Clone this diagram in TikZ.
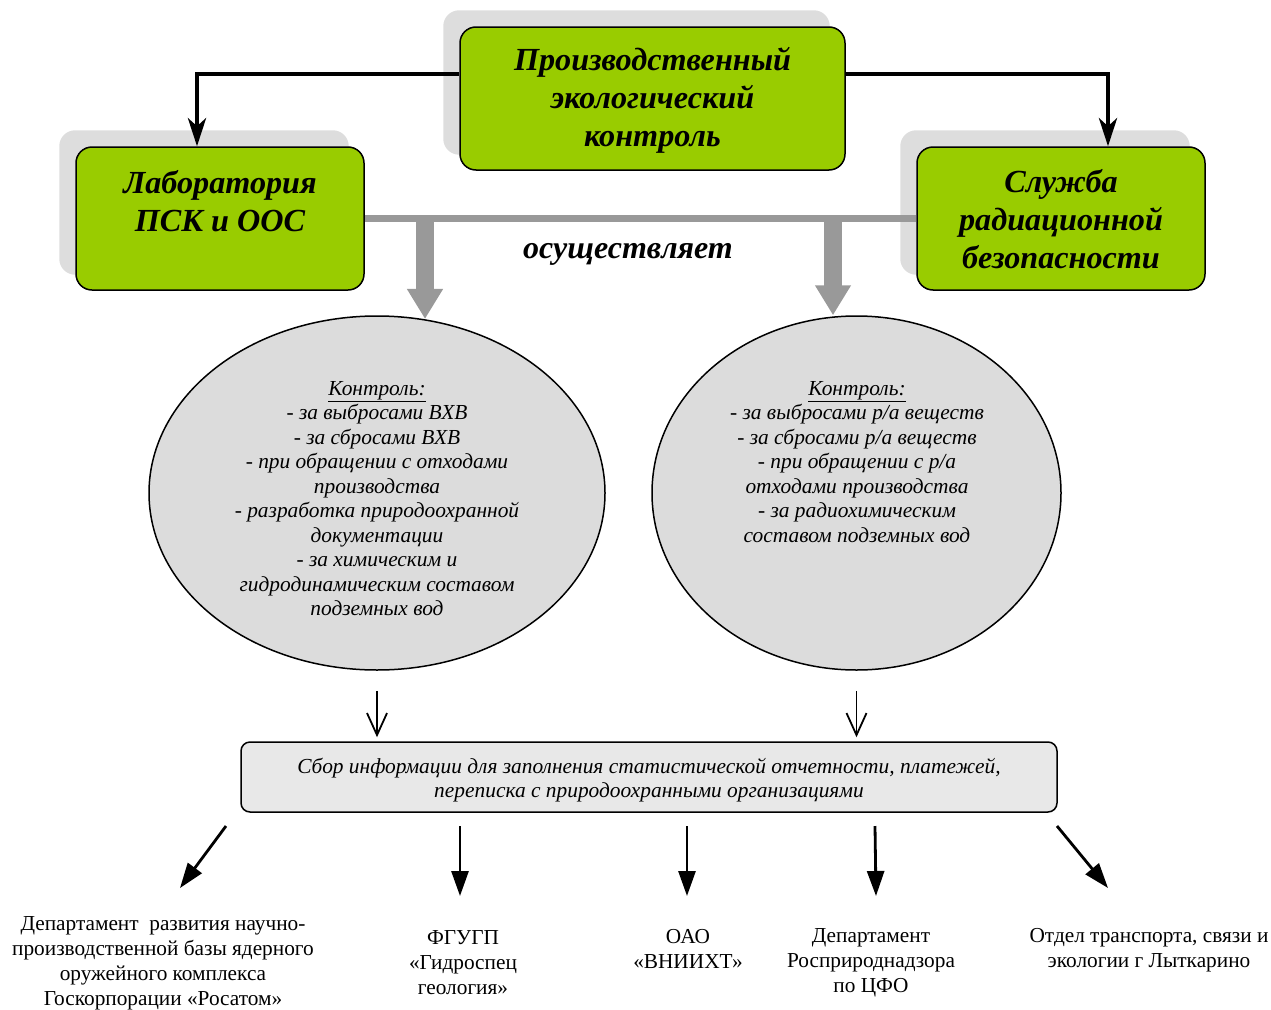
\documentclass[tikz,border=0pt]{standalone}
\usepackage{fontspec}
\setmainfont{Liberation Serif}
\usetikzlibrary{arrows.meta,shapes.geometric,backgrounds,calc}
\definecolor{boxgreen}{HTML}{99CC00}
\definecolor{shadowgray}{HTML}{DDDDDD}
\definecolor{linegray}{HTML}{999999}
\definecolor{ellgray}{HTML}{DCDCDC}
\definecolor{infogray}{HTML}{E8E8E8}
\tikzset{
  greenbox/.style={draw=black, line width=1.5pt, fill=boxgreen, rounded corners=16pt, inner sep=0pt},
  headtext/.style={font=\fontsize{32.2}{38}\selectfont\bfseries\itshape, align=center, inner sep=0pt},
  ell/.style={ellipse, draw=black, line width=1.5pt, fill=ellgray, inner sep=0pt},
  elltext/.style={font=\fontsize{21.4}{24.5}\selectfont\itshape, align=center, inner sep=0pt},
  blkconn/.style={line width=4.5pt, -{Stealth[length=28pt,width=18pt,inset=8pt]}},
  fatarrow/.style={draw=linegray, line width=18pt, -{Triangle[length=30pt,width=34pt]}},
  thinarrow/.style={line width=1.8pt, -{Straight Barb[length=22pt,width=20pt]}},
  outarrow/.style={line width=2.8pt, -{Triangle[length=25pt,width=17pt]}},
  infobox/.style={draw=black, line width=1.5pt, fill=infogray, rounded corners=9pt, inner sep=0pt},
  labtext/.style={font=\fontsize{21.3}{25}\selectfont, align=center, inner sep=0pt},
  shadowbox/.style={fill=shadowgray, rounded corners=16pt}
}
\begin{document}
\begin{tikzpicture}[x=1pt,y=-1pt]
\useasboundingbox (0,0) rectangle (1271,1009);

% green boxes
\node[greenbox, minimum width=385pt, minimum height=143pt] (top) at (652.5,98.5) {};
\node[greenbox, minimum width=288pt, minimum height=143pt] (lab) at (220,218.5) {};
\node[greenbox, minimum width=288pt, minimum height=143pt] (sl) at (1061,218.5) {};

\begin{scope}[on background layer]
  \foreach \b in {top,lab,sl}{
    \fill[shadowbox] ([shift={(-16pt,16pt)}]\b.south west) rectangle ([shift={(-16pt,16pt)}]\b.north east);
  }
\end{scope}

\node[headtext] (topt) at (652.5,100) {Производственный\\экологический\\контроль};
\node[headtext] (labt) at (220,201) {Лаборатория\\ПСК и ООС};
\node[headtext] (slt) at (1061,219.5) {Служба\\радиационной\\безопасности};

% black connectors
\draw[blkconn] ([yshift=24.5pt]top.west) -| ([xshift=-23pt]lab.north);
\draw[blkconn] ([yshift=24.5pt]top.east) -| ([xshift=47pt]sl.north);

% gray line
\draw[linegray, line width=7pt] (lab.east) -- (sl.west);
\node[font=\fontsize{32}{36}\selectfont\bfseries\itshape, inner sep=0pt] (osu) at (628,254) {осуществляет};

% ellipses
\node[ell, minimum width=456pt, minimum height=354pt] (el1) at (377,493) {};
\node[ell, minimum width=409pt, minimum height=354pt] (el2) at (856.5,493) {};

\coordinate (g1) at (425,218.5);
\coordinate (g2) at (833,218.5);
\draw[fatarrow] (g1) -- (g1 |- el1.75);
\draw[fatarrow] (g2) -- (g2 |- el2.north);

\node[elltext] (el1t) at (377,498.5) {\underline{Контроль:}\\- за выбросами ВХВ\\- за сбросами ВХВ\\- при обращении с отходами\\производства\\- разработка природоохранной\\документации\\- за химическим и\\гидродинамическим составом\\подземных вод};
\node[elltext] (el2t) at (857,462) {\underline{Контроль:}\\- за выбросами р/а веществ\\- за сбросами р/а веществ\\- при обращении с р/а\\отходами производства\\- за радиохимическим\\составом подземных вод};

% info box
\node[infobox, minimum width=816pt, minimum height=70pt] (bb) at (649,777) {};
\node[font=\fontsize{21.4}{24}\selectfont\itshape, align=center, inner sep=0pt] (bbt) at (649,780) {Сбор информации для заполнения статистической отчетности, платежей,\\переписка с природоохранными организациями};

\draw[thinarrow, shorten >=4pt] ([yshift=-20pt]el1.south) -- (el1.south |- bb.north);
\draw[thinarrow, shorten >=4pt] ([yshift=-20pt]el2.south) -- (el2.south |- bb.north);

% bottom labels
\node[labtext] (d1) at (163,963.5) {Департамент\ \ развития научно-\\производственной базы ядерного\\оружейного комплекса\\Госкорпорации «Росатом»};
\node[labtext] (d2) at (463,962.5) {ФГУГП\\«Гидроспец\\геология»};
\node[labtext] (d3) at (688,949) {ОАО\\«ВНИИХТ»};
\node[labtext] (d4) at (871,962.5) {Департамент\\Росприроднадзора\\по ЦФО};
\node[labtext] (d5) at (1149,950.5) {Отдел транспорта, связи и\\экологии г Лыткарино};

\coordinate (s1) at (226,826); \coordinate (t1) at (180,888);
\coordinate (s2) at (460,826); \coordinate (t2) at (460,896);
\coordinate (s3) at (687,826); \coordinate (t3) at (687,896);
\coordinate (s4) at (875,826); \coordinate (t4) at (876,896);
\coordinate (s5) at (1057,826); \coordinate (t5) at (1108,888);
\foreach \i in {1,...,5}{ \draw[outarrow] (s\i) -- (t\i); }

\end{tikzpicture}
\end{document}
